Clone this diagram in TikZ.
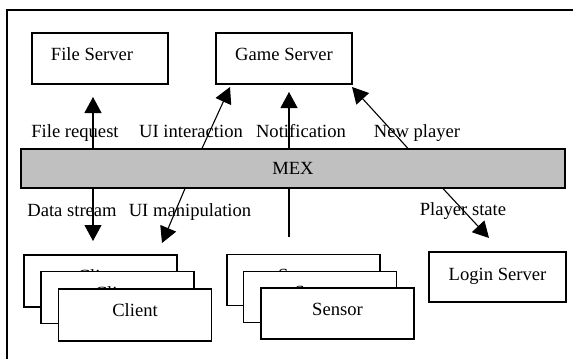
\documentclass[tikz,border=0pt]{standalone}
\usepackage{fontspec}
\setmainfont{Liberation Serif}
\usetikzlibrary{arrows.meta}

\definecolor{mexgray}{RGB}{192,192,192}

\tikzset{
  box/.style={draw, line width=1.1pt, fill=white, minimum width=136pt, minimum height=51pt,
    inner sep=0pt, text height=13pt, text depth=10pt},
  stackbox/.style={box, minimum width=153pt, minimum height=52pt},
  bus/.style={draw, line width=1.1pt, fill=mexgray, minimum width=544pt, minimum height=39pt, inner sep=0pt},
  lbl/.style={anchor=base, inner sep=0pt},
  link/.style={line width=1.1pt, -{Triangle[length=16pt,width=17pt]}},
}

\begin{document}
\begin{tikzpicture}[x=1pt, y=-1pt, font=\fontsize{18.6}{22}\selectfont]
    \useasboundingbox (0,0) rectangle (573,359);

    % Frame
    \draw[line width=1.4pt] (7,359) -- (7,10) -- (573,10);

    % Servers
    \node[box] (fileserver) at (100,58.5) {File Server\hspace*{16pt}};
    \node[box] (gameserver) at (284,58.5) {Game Server};
    \node[box, minimum width=137pt, minimum height=50pt, text depth=7pt] (loginserver) at (497.5,277) {Login Server};

    % MEX bus
    \node[bus] (mex) at (293,168.5) {MEX};

    % Clients and sensors, stacked
    \node[stackbox] (client1) at (100.5,281) {Client};
    \node[stackbox] (client2) at (117.5,297.5) {Client};
    \node[stackbox] (client3) at (135,315) {Client};
    \node[stackbox, minimum height=51pt] (sensor1) at (303.5,280) {Sensor};
    \node[stackbox, minimum height=51pt] (sensor2) at (320,297) {Sensor};
    \node[stackbox, minimum height=51pt] (sensor3) at (337.5,313.5) {Sensor};

    % Arrow ends
    \coordinate (filereq) at (93,97);
    \coordinate (uiint) at (230,87);
    \coordinate (notif) at (289,92);
    \coordinate (newpl) at (352,87);
    \coordinate (datastr) at (93,241);
    \coordinate (uiman) at (162,243);
    \coordinate (sensend) at (289,237);
    \coordinate (plstate) at (489,238);

    % Labels
    \node[lbl] (lfilereq) at (75,137.5) {File request};
    \node[lbl] (luiint) at (191,137.5) {UI interaction};
    \node[lbl] (lnotif) at (301,137.5) {Notification};
    \node[lbl] (lnewpl) at (417,137.5) {New player};
    \node[lbl] (ldatastr) at (72,216) {Data stream};
    \node[lbl] (luiman) at (190,216) {UI manipulation};
    \node[lbl] (lplstate) at (463,215) {Player state};

    % Up to the servers
    \draw[link] (mex.north -| filereq) -- (filereq);
    \draw[link] (mex.north -| 202,0) -- (uiint);
    \draw[link] (mex.north -| notif) -- (notif);
    \draw[link] (mex.north -| 408,0) -- (newpl);

    % Down from the bus
    \draw[link] (mex.south -| datastr) -- (datastr);
    \draw[link] (mex.south -| 185,0) -- (uiman);
    \draw[line width=1.1pt] (sensend) -- (mex.south -| sensend);
    \draw[link] (mex.south -| 443,0) -- (plstate);
\end{tikzpicture}
\end{document}
